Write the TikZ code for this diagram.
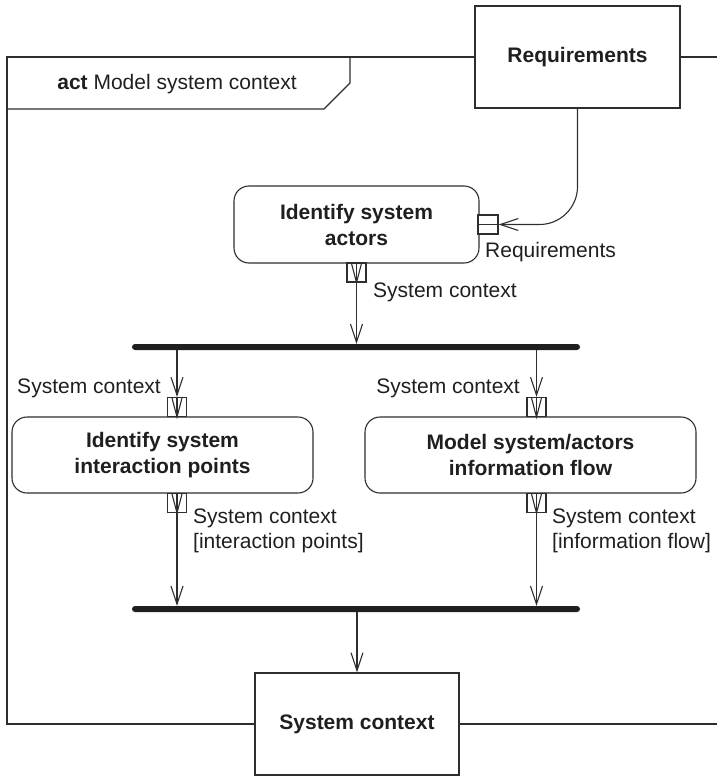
\documentclass[tikz,border=0pt]{standalone}
\usepackage{fontspec}
\setmainfont{Liberation Sans}
\usetikzlibrary{arrows.meta}
\begin{document}
\begin{tikzpicture}[x=1pt,y=-1pt,
  every node/.style={font=\fontsize{21}{25}\selectfont, text=black!88},
  ln/.style={line width=1.1pt, draw=black!82},
  arr/.style={ln, -{Straight Barb[length=18pt,width=12pt,line width=1.1pt]}},
  actbox/.style={ln, rounded corners=15pt, align=center, inner sep=0pt, font=\fontsize{21}{26}\selectfont\bfseries},
  objbox/.style={ln, fill=white, align=center, inner sep=0pt, font=\fontsize{21}{25}\selectfont\bfseries},
  pinbox/.style={ln, fill=white, inner sep=0pt, minimum width=19pt, minimum height=19pt},
  bar/.style={fill=black!88, inner sep=0pt, minimum width=448pt, minimum height=6pt, rounded corners=3pt},
  lbl/.style={inner sep=0pt, align=left}]
\useasboundingbox (0,0) rectangle (717,776);

% frame and parameter nodes
\node[objbox, minimum width=205pt, minimum height=102pt] (req) at (577.5,57) {Requirements};
\node[objbox, minimum width=204pt, minimum height=102pt] (sysctx) at (357,724) {System context};
\coordinate (ftl) at (7,57);
\coordinate (fbl) at (7,724);
\coordinate (ftr) at (717,57);
\coordinate (fbr) at (717,724);
\draw[ln] (req.west) -- (ftl) -- (fbl) -- (sysctx.west);
\draw[ln] (req.east) -- (ftr);
\draw[ln] (sysctx.east) -- (fbr);

% header
\coordinate (h1) at (7,109);
\coordinate (h2) at (324,109);
\coordinate (h3) at (350,83);
\coordinate (h4) at (350,57);
\draw[ln] (h1) -- (h2) -- (h3) -- (h4);
\node[lbl] (hdr) at (177,84) {\textbf{act} Model system context};

% actions
\node[actbox, minimum width=245pt, minimum height=77pt] (actors) at (356.5,224.5) {Identify system\\actors};
\node[actbox, minimum width=301pt, minimum height=76pt] (inter) at (162.5,455) {Identify system\\interaction points};
\node[actbox, minimum width=331pt, minimum height=76pt] (info) at (530.5,455) {Model system/actors\\information flow};

% bars
\node[bar] (bar1) at (356,347) {};
\node[bar] (bar2) at (356,609) {};

% pins
\node[pinbox, minimum width=20pt] (preq) at (488,224.5) {};
\node[pinbox] (pact) at (356.5,272.5) {};
\node[pinbox] (pin1) at (177,407) {};
\node[pinbox] (pin2) at (536.5,407) {};
\node[pinbox] (pout1) at (177,503) {};
\node[pinbox] (pout2) at (536.5,503) {};

% pin interiors
\draw[ln] (preq.west) -- (preq.east);
\foreach \p in {pact,pin1,pin2,pout1,pout2}{
  \draw[ln] (\p.north) -- (\p.south);
  \draw[ln] ([shift={(-5,1)}]\p.north) -- (\p.south) -- ([shift={(5,1)}]\p.north);
}

% connectors
\draw[arr, rounded corners=38pt] (req.south) |- (preq.east);
\draw[arr] (pact.south) -- (pact.south |- bar1.north);
\draw[arr] (bar1.south -| pin1) -- (pin1.north);
\draw[arr] (bar1.south -| pin2) -- (pin2.north);
\draw[arr] (pout1.south) -- (pout1.south |- bar2.north);
\draw[arr] (pout2.south) -- (pout2.south |- bar2.north);
\draw[arr] (bar2.south -| sysctx) -- (sysctx.north);

% labels
\node[lbl, anchor=west] (lreq) at (485,252) {Requirements};
\node[lbl, anchor=west] (lact) at (373,292) {System context};
\node[lbl, anchor=east] (lin1) at (161,388) {System context};
\node[lbl, anchor=east] (lin2) at (520,388) {System context};
\node[lbl, anchor=north west] (lout1) at (193,509) {System context\\{}[interaction points]};
\node[lbl, anchor=north west] (lout2) at (552,509) {System context\\{}[information flow]};
\end{tikzpicture}
\end{document}
